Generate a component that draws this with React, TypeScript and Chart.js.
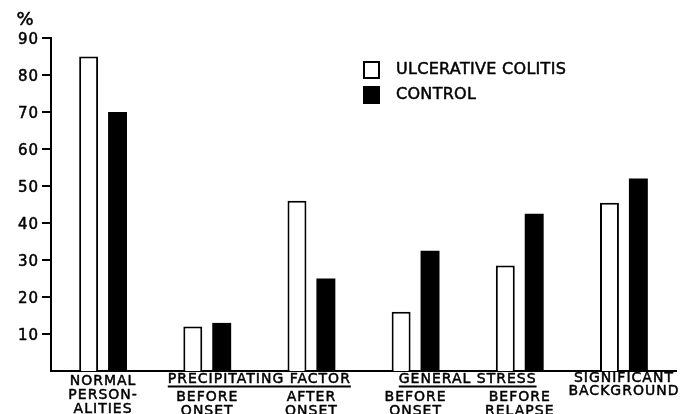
import { useEffect, useRef } from 'react';
import { Chart, registerables } from 'chart.js';

Chart.register(...registerables);

// ---- data ----
const categoryLabels: string[][] = [
  ['NORMAL', 'PERSON-', 'ALITIES'],
  ['', 'BEFORE', 'ONSET'],
  ['', 'AFTER', 'ONSET'],
  ['', 'BEFORE', 'ONSET'],
  ['', 'BEFORE', 'RELAPSE'],
  ['SIGNIFICANT', 'BACKGROUND'],
];
const ulcerativeColitis = [85, 12, 46, 16, 28.5, 45.5];
const control = [70, 13, 25, 32.5, 42.5, 52];
const seriesNames = ['ULCERATIVE COLITIS', 'CONTROL'];
const groupHeaders = [
  { text: 'PRECIPITATING FACTOR', first: 1, last: 2 },
  { text: 'GENERAL STRESS', first: 3, last: 4 },
];
const yMin = 0;
const yMax = 90;
const yStep = 10;
const unitLabel = '%';

const FONT = '"DejaVu Sans", sans-serif';

function heavyText(ctx: any, t: string, x: number, y: number) {
  ctx.fillText(t, x, y);
  ctx.strokeText(t, x, y);
}

const annotationsPlugin = {
  id: 'annotations',
  afterDraw(chart: any) {
    const ctx = chart.ctx;
    const x = chart.scales.x;
    const y = chart.scales.y;
    const area = chart.chartArea;
    ctx.save();
    ctx.fillStyle = '#000';
    ctx.strokeStyle = '#000';
    ctx.lineJoin = 'round';

    // y tick marks
    y.ticks.forEach((t: any) => {
      const py = Math.round(y.getPixelForValue(t.value));
      ctx.fillRect(area.left - 9, py - 1, 10, 2);
    });

    // unit label
    ctx.font = `18px ${FONT}`;
    ctx.textAlign = 'center';
    ctx.textBaseline = 'middle';
    ctx.lineWidth = 0.5;
    heavyText(ctx, unitLabel, 25, 20);

    // y tick labels
    ctx.font = `15px ${FONT}`;
    ctx.textAlign = 'right';
    (ctx as any).letterSpacing = '1px';
    y.ticks.forEach((t: any) => {
      const py = Math.round(y.getPixelForValue(t.value));
      heavyText(ctx, String(t.value), area.left - 12, py + 2);
    });

    ctx.textAlign = 'center';
    ctx.font = `14px ${FONT}`;
    (ctx as any).letterSpacing = '1px';
    ctx.lineWidth = 0.5;
    // category labels
    chart.data.labels.forEach((lines: string[], i: number) => {
      const cx = x.getPixelForValue(i);
      const headered = lines[0] === '';
      const start = headered ? 26.5 : lines.length === 2 ? 7 : 10.5;
      lines.forEach((t: string, k: number) => {
        if (!t) return;
        const row = headered ? k - 1 : k;
        heavyText(ctx, t, cx, area.bottom + start + row * 13.8);
      });
    });
    // group headers
    groupHeaders.forEach((g) => {
      const cx = (x.getPixelForValue(g.first) + x.getPixelForValue(g.last)) / 2;
      const cy = area.bottom + 8.5;
      ctx.lineWidth = 0.5;
      heavyText(ctx, g.text, cx, cy);
      const w = ctx.measureText(g.text).width;
      ctx.fillRect(cx - w / 2, cy + 6, w, 2);
    });
    // legend
    const lx = 363;
    const ly = [61, 86];
    (ctx as any).letterSpacing = '0.3px';
    chart.data.datasets.forEach((ds: any, i: number) => {
      ctx.fillStyle = '#000';
      ctx.fillRect(lx, ly[i], 17, 18);
      if (ds.backgroundColor !== '#000000') {
        ctx.fillStyle = ds.backgroundColor;
        ctx.fillRect(lx + 2, ly[i] + 2, 13, 14);
      }
      ctx.fillStyle = '#000';
      ctx.font = `16px ${FONT}`;
      ctx.textAlign = 'left';
      ctx.textBaseline = 'middle';
      ctx.lineWidth = 0.5;
      heavyText(ctx, ds.label, 396, ly[i] + 9);
    });
    ctx.restore();
  },
};

export default function App() {
  const ref = useRef<HTMLCanvasElement>(null);
  useEffect(() => {
    const chart = new Chart(ref.current!, {
      type: 'bar',
      data: {
        labels: categoryLabels,
        datasets: [
          {
            label: seriesNames[0],
            data: ulcerativeColitis,
            backgroundColor: '#ffffff',
            borderColor: '#000000',
            borderWidth: 2,
          },
          {
            label: seriesNames[1],
            data: control,
            backgroundColor: '#000000',
            borderColor: '#000000',
            borderWidth: 0,
          },
        ],
      },
      options: {
        animation: false,
        responsive: false,
        devicePixelRatio: 1,
        categoryPercentage: 0.555,
        barPercentage: 0.655,
        layout: { padding: { left: 0, right: 18, top: 38, bottom: 0 } },
        plugins: { legend: { display: false }, tooltip: { enabled: false } },
        scales: {
          x: {
            grid: { display: false, drawTicks: false },
            border: { display: true, color: '#000', width: 2 },
            ticks: { display: false },
            afterFit: (s: any) => {
              s.height = 43;
            },
          },
          y: {
            min: yMin,
            max: yMax,
            grid: { display: false },
            border: { display: true, color: '#000', width: 2 },
            ticks: { stepSize: yStep, display: false },
            afterBuildTicks: (s: any) => {
              s.ticks = s.ticks.filter((t: any) => t.value !== 0);
            },
            afterFit: (s: any) => {
              s.width = 51;
            },
          },
        },
      },
      plugins: [annotationsPlugin],
    });
    return () => chart.destroy();
  }, []);
  return (
    <div style={{ position: 'fixed', left: 0, top: 0, width: 694, height: 414, background: '#fff' }}>
      <canvas ref={ref} width={694} height={414} style={{ display: 'block' }} />
    </div>
  );
}
